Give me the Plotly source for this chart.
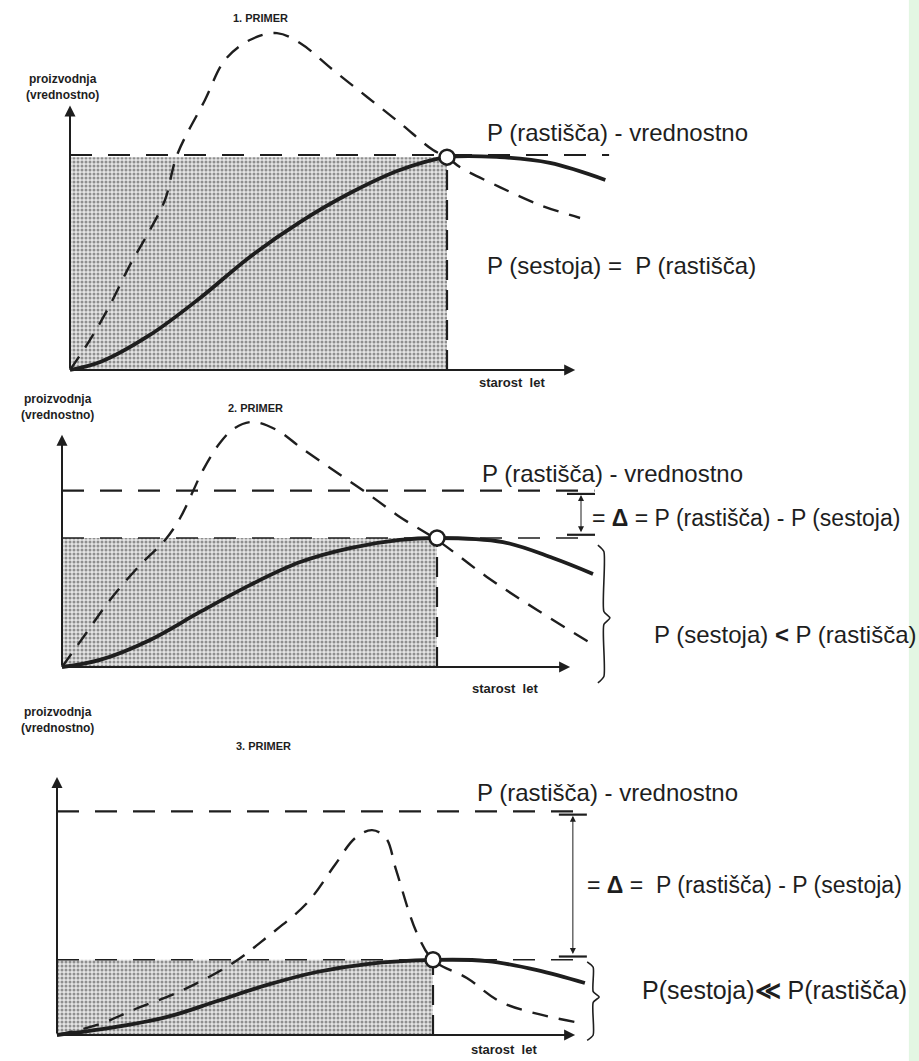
import plotly.graph_objects as go

# ---------------- data (age: rotation = 100, value units) -------------
# Panel 1
p1_rotation = 100
p1_rast = 100
p1_sest = 99
p1_solid_age = [0, 8, 21.2, 34.5, 47.7, 61, 74.3, 87.5, 100, 114, 127.3, 142]
p1_solid_val = [0, 3.7, 16.3, 33.5, 52.6, 68.8, 82.3, 93, 99, 99, 96.3, 88.4]
p1_dash_age = [0, 5.3, 10.6, 15.9, 21.2, 25.2, 28.4, 35.8, 41.1, 47.7, 54.9, 61, 69.8, 78.8, 87.5, 96.3, 100, 103.4, 114, 124.7, 135.3]
p1_dash_val = [0, 14, 30.2, 48.8, 65.1, 79.1, 100, 125.6, 144.2, 153.5, 156.7, 152.1, 139.5, 127, 114.9, 102.3, 99, 94.4, 85.1, 76.7, 70.7]

# Panel 2
p2_rotation = 100
p2_rast = 82
p2_sest = 60
p2_solid_age = [0, 10.1, 23.5, 36.8, 50.1, 63.5, 76.8, 90.1, 100, 117.6, 130.9, 141.6]
p2_solid_val = [0, 3.3, 12.6, 25.6, 38.1, 48.8, 55.3, 59.1, 60, 58.1, 50.7, 43.3]
p2_dash_age = [0, 6.1, 12.8, 20.8, 27.5, 31.5, 34.7, 37.6, 42.1, 46.1, 50.9, 57.3, 63.5, 72.3, 81.3, 90.1, 100, 113.3, 126.7, 142.7]
p2_dash_val = [0, 14.9, 31.2, 47.4, 59.1, 69.3, 80.9, 91.6, 104.2, 111.2, 114, 110.2, 102.3, 91.6, 80.9, 69.8, 59.1, 41.9, 26.5, 9.3]

# Panel 3
p3_rotation = 100
p3_rast = 104
p3_sest = 35
p3_solid_age = [0, 14.1, 29.3, 42.6, 55.9, 69.1, 82.4, 100, 114.4, 127.7, 140.4]
p3_solid_val = [0, 3.3, 8.4, 15.8, 23.3, 29.3, 33, 34.9, 34.4, 30.2, 24.2]
p3_dash_age = [0, 11.4, 20.2, 33.5, 46.8, 55.9, 66.5, 73.9, 79.3, 83.8, 87.5, 90.2, 95.7, 100, 109, 118.6, 139.1]
p3_dash_val = [0, 5.1, 11.6, 20.9, 33.5, 45.6, 61.4, 79.1, 91.6, 95.3, 91.6, 76.7, 47.4, 34.9, 26.5, 14.9, 5.6]

# ---------------- layout helpers --------------------------------------------------------------
W, H = 919, 1061
INK = "#1e1e1e"
FONT = "Liberation Sans, Arial, sans-serif"

panels = [
    dict(ox=70, oy=370, sx=3.77, sy=2.15, band=(0, 392), rot=p1_rotation, rast=p1_rast, sest=p1_sest,
         sa=p1_solid_age, sv=p1_solid_val, da=p1_dash_age, dv=p1_dash_val,
         xend=134, yend=123, rast_end=143, sest_end=None),
    dict(ox=62, oy=667, sx=3.75, sy=2.15, band=(392, 700), rot=p2_rotation, rast=p2_rast, sest=p2_sest,
         sa=p2_solid_age, sv=p2_solid_val, da=p2_dash_age, dv=p2_dash_val,
         xend=135.5, yend=108, rast_end=142, sest_end=139.5),
    dict(ox=57, oy=1035, sx=3.76, sy=2.15, band=(700, 1061), rot=p3_rotation, rast=p3_rast, sest=p3_sest,
         sa=p3_solid_age, sv=p3_solid_val, da=p3_dash_age, dv=p3_dash_val,
         xend=137.8, yend=120, rast_end=139, sest_end=140),
]

fig = go.Figure()
annotations = []
layout_axes = {}

for i, p in enumerate(panels):
    n = "" if i == 0 else str(i + 1)
    xr, yr = "x" + n, "y" + n
    top, bot = p["band"]
    layout_axes["xaxis" + n] = dict(domain=[0, 1], range=[-p["ox"] / p["sx"], (W - p["ox"]) / p["sx"]],
                                    visible=False, fixedrange=True, anchor=yr)
    layout_axes["yaxis" + n] = dict(domain=[1 - bot / H, 1 - top / H],
                                    range=[(p["oy"] - bot) / p["sy"], (p["oy"] - top) / p["sy"]],
                                    visible=False, fixedrange=True, anchor=xr)

    # shaded stand production rectangle
    fig.add_trace(go.Bar(x=[p["rot"] / 2], y=[p["sest"]], width=[p["rot"]], base=0,
                         marker=dict(color="#d6d6d6", line=dict(width=0),
                                     pattern=dict(shape=".", fgcolor="#3a3a3a", bgcolor="#e4e4e4",
                                                  size=4, solidity=0.45)),
                         xaxis=xr, yaxis=yr, showlegend=False, hoverinfo="skip"))
    # site potential dashed line
    fig.add_trace(go.Scatter(x=[0, p["rast_end"]], y=[p["rast"], p["rast"]], mode="lines",
                             line=dict(color=INK, width=2.2, dash="22px,16px"),
                             xaxis=xr, yaxis=yr, showlegend=False, hoverinfo="skip"))
    if p["sest_end"] is not None:
        fig.add_trace(go.Scatter(x=[0, p["sest_end"]], y=[p["sest"], p["sest"]], mode="lines",
                                 line=dict(color=INK, width=1.6, dash="22px,16px"),
                                 xaxis=xr, yaxis=yr, showlegend=False, hoverinfo="skip"))
    # vertical dashed line at rotation age
    fig.add_trace(go.Scatter(x=[p["rot"], p["rot"]], y=[0, p["sest"]], mode="lines",
                             line=dict(color=INK, width=2.2, dash="20px,10px"),
                             xaxis=xr, yaxis=yr, showlegend=False, hoverinfo="skip"))
    # dashed (increment) curve
    fig.add_trace(go.Scatter(x=p["da"], y=p["dv"], mode="lines",
                             line=dict(color=INK, width=2.4, dash="16px,11px", shape="spline", smoothing=1),
                             xaxis=xr, yaxis=yr, showlegend=False, hoverinfo="skip"))
    # solid (production) curve
    fig.add_trace(go.Scatter(x=p["sa"], y=p["sv"], mode="lines",
                             line=dict(color=INK, width=3.8, shape="spline", smoothing=1),
                             xaxis=xr, yaxis=yr, showlegend=False, hoverinfo="skip"))
    # open circle at culmination
    fig.add_trace(go.Scatter(x=[p["rot"]], y=[p["sest"]], mode="markers",
                             marker=dict(symbol="circle", size=15, color="white",
                                         line=dict(color=INK, width=2.5)),
                             xaxis=xr, yaxis=yr, showlegend=False, hoverinfo="skip"))
    # axes arrows
    for (tx, ty) in [(p["xend"], 0), (0, p["yend"])]:
        annotations.append(dict(x=tx, y=ty, ax=0, ay=0, xref=xr, yref=yr, axref=xr, ayref=yr,
                                text="", showarrow=True, arrowhead=2, arrowsize=1.1,
                                arrowwidth=2, arrowcolor=INK))

# Delta markers and braces (panels 2 and 3)
delta_x = {1: 138.4, 2: 137.2}
brace_geo = {1: dict(x0=142.9, top=56.7, bot=-7.4, mid=22.8, w=1.6, d=3),
             2: dict(x0=141.0, top=34.0, bot=-2.5, mid=17.7, w=1.6, d=2.5)}
for i in (1, 2):
    p = panels[i]
    n = str(i + 1)
    xr, yr = "x" + n, "y" + n
    dx = delta_x[i]
    fig.add_trace(go.Scatter(x=[dx, dx], y=[p["rast"] - 1.5, p["sest"] + 1.5], mode="markers",
                             marker=dict(symbol="line-ew-open", size=20, color=INK,
                                         line=dict(color=INK, width=2.2)),
                             xaxis=xr, yaxis=yr, showlegend=False, hoverinfo="skip"))
    annotations.append(dict(x=dx, y=p["rast"] - 2, ax=dx, ay=p["sest"] + 2, xref=xr, yref=yr,
                            axref=xr, ayref=yr, text="", showarrow=True, arrowhead=2, arrowside="end+start",
                            arrowsize=1.2, arrowwidth=1, arrowcolor=INK))
    b = brace_geo[i]
    bx = [b["x0"], b["x0"] + b["w"], b["x0"] + b["w"], b["x0"] + 2 * b["w"], b["x0"] + b["w"],
          b["x0"] + b["w"], b["x0"]]
    by = [b["top"], b["top"] - b["d"], b["mid"] + b["d"], b["mid"], b["mid"] - b["d"], b["bot"] + b["d"], b["bot"]]
    fig.add_trace(go.Scatter(x=bx, y=by, mode="lines",
                             line=dict(color=INK, width=1.6, shape="spline", smoothing=0.6),
                             xaxis=xr, yaxis=yr, showlegend=False, hoverinfo="skip"))

# ---------------- texts -----------------------------------------------------------------------
def txt(s, x, y, ref, size, anchor="left", bold=False):
    annotations.append(dict(x=x, y=y, xref="x" + ref, yref="y" + ref, text=("<b>%s</b>" % s) if bold else s,
                            showarrow=False, xanchor=anchor, yanchor="middle", align="center",
                            font=dict(family=FONT, size=size, color=INK)))

label = 12
primer = 11
axis_t = 13
big = 24
mid = 23
# panel 1
txt("1. PRIMER", 50.4, 163.7, "", primer, "center", True)
txt("proizvodnja<br>(vrednostno)", -2.1, 131.6, "", label, "center", True)
txt("starost  let", 117.2, -5.6, "", axis_t, "center", True)
txt("P (rastišča) - vrednostno", 110, 110.7, "", big)
txt("P (sestoja) =  P (rastišča)", 110, 48.8, "", big)
# panel 2
txt("2. PRIMER", 51.5, 120.5, "2", primer, "center", True)
txt("proizvodnja<br>(vrednostno)", -1.3, 121, "2", label, "center", True)
txt("starost  let", 118, -9.8, "2", axis_t, "center", True)
txt("P (rastišča) - vrednostno", 111.5, 90.2, "2", big)
txt("= <b>Δ</b> = P (rastišča) - P (sestoja)", 140.8, 69.3, "2", mid)
txt("P (sestoja) <b>&lt;</b> P (rastišča)", 157.3, 15.3, "2", big)
# panel 3
txt("proizvodnja<br>(vrednostno)", 0, 146.5, "3", label, "center", True)
txt("3. PRIMER", 54.8, 134.4, "3", primer, "center", True)
txt("starost  let", 119, -6.8, "3", axis_t, "center", True)
txt("P (rastišča) - vrednostno", 111.2, 113, "3", big)
txt("= <b>Δ</b> =  P (rastišča) - P (sestoja)", 140.4, 69.8, "3", mid)
txt("P(sestoja)<b>≪</b> P(rastišča)", 155, 20.9, "3", 25)

fig.update_layout(
    width=W, height=H, margin=dict(l=0, r=0, t=0, b=0),
    paper_bgcolor="white", plot_bgcolor="rgba(0,0,0,0)",
    barmode="overlay", annotations=annotations,
    shapes=[dict(type="rect", xref="paper", yref="paper", x0=0.989, x1=1, y0=0, y1=1,
                 fillcolor="#e3f6e3", line=dict(width=0), layer="below")],
    **layout_axes,
)
fig.write_html("out.html", config={"displayModeBar": False},
               post_script="document.body.style.margin='0px';document.body.style.overflow='hidden';")
